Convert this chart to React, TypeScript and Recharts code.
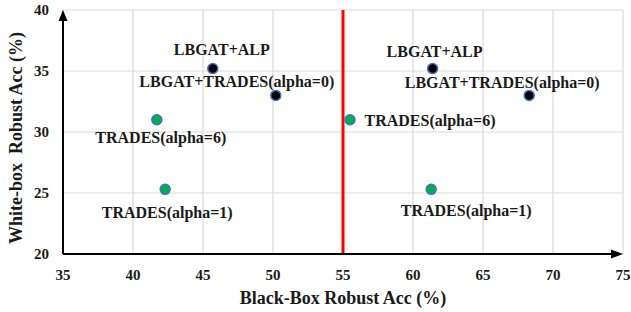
import { ScatterChart, Scatter, XAxis, YAxis, CartesianGrid, ReferenceLine } from "recharts";

const NAMES = ["LBGAT+ALP", "LBGAT+TRADES(alpha=0)", "TRADES(alpha=6)", "TRADES(alpha=1)"];
const WHITE_BOX = [35.2, 33.0, 31.0, 25.3];
const BLACK_BOX_A = [45.7, 50.2, 41.7, 42.3];
const BLACK_BOX_B = [61.4, 68.3, 55.5, 61.3];
const X_TICKS = [35, 40, 45, 50, 55, 60, 65, 70, 75];
const Y_TICKS = [20, 25, 30, 35, 40];
const THRESHOLD = 55;

// label offsets (text centre relative to marker), per group
const OFFSETS_A = [[9, -19], [-39, -14], [4, 18], [2, 23]];
const OFFSETS_B = [[2, -17], [-27, -13], [80, 1], [35, 21]];

const FONT = "'Liberation Serif', 'Times New Roman', serif";
const DARK = "#000000";
const GREEN = "#00B050";
const EDGE = "#4472C4";
const INK = "#1a1a1a";

const groupA = NAMES.map((name, i) => ({ name, x: BLACK_BOX_A[i], y: WHITE_BOX[i], i, g: 0 }));
const groupB = NAMES.map((name, i) => ({ name, x: BLACK_BOX_B[i], y: WHITE_BOX[i], i, g: 1 }));
const points = [...groupA, ...groupB];

function Marker(props: any) {
  const { cx, cy, payload } = props;
  const [dx, dy] = (payload.g === 0 ? OFFSETS_A : OFFSETS_B)[payload.i];
  const fill = payload.name.startsWith("LBGAT") ? DARK : GREEN;
  return (
    <g>
      <circle cx={cx} cy={cy} r={5} fill={fill} stroke={EDGE} strokeWidth={1.5} />
      <text
        x={cx + dx}
        y={cy + dy}
        textAnchor="middle"
        dominantBaseline="central"
        fontFamily={FONT}
        fontWeight="bold"
        fontSize={16}
        fill={INK}
      >
        {payload.name}
      </text>
    </g>
  );
}

function ArrowAxis(props: any) {
  const { x1, y1, x2, y2 } = props;
  const vertical = x1 === x2;
  const head = vertical
    ? `${x2},${y2} ${x2 - 4.5},${y2 + 11} ${x2 + 4.5},${y2 + 11}`
    : `${x2},${y2} ${x2 - 12},${y2 - 4.5} ${x2 - 12},${y2 + 4.5}`;
  return (
    <g>
      <line x1={x1} y1={y1} x2={vertical ? x2 : x2 - 8} y2={vertical ? y2 + 8 : y2} stroke="#000" strokeWidth={2} />
      <polygon points={head} fill="#000" />
    </g>
  );
}

function XTick(props: any) {
  const { x, y, payload } = props;
  return (
    <text x={x} y={y + 11} textAnchor="middle" fontFamily={FONT} fontWeight="bold" fontSize={15} fill={INK}>
      {payload.value}
    </text>
  );
}

function YTick(props: any) {
  const { x, y, payload } = props;
  return (
    <text x={x} y={y} textAnchor="end" dominantBaseline="central" fontFamily={FONT} fontWeight="bold" fontSize={15} fill={INK}>
      {payload.value}
    </text>
  );
}

function YTitle(props: any) {
  const { viewBox } = props;
  const cx = viewBox.x + 16;
  const cy = viewBox.y + viewBox.height / 2 + 6;
  return (
    <text
      x={cx}
      y={cy}
      transform={`rotate(-90, ${cx}, ${cy})`}
      textAnchor="middle"
      dominantBaseline="central"
      fontFamily={FONT}
      fontWeight="bold"
      fontSize={18}
      fill={INK}
      style={{ whiteSpace: "pre" }}
    >
      {"White-box  Robust Acc (%)"}
    </text>
  );
}

function XTitle(props: any) {
  const { viewBox } = props;
  const cx = viewBox.x + viewBox.width / 2;
  const cy = viewBox.y + 44;
  return (
    <text
      x={cx}
      y={cy}
      textAnchor="middle"
      dominantBaseline="central"
      fontFamily={FONT}
      fontWeight="bold"
      fontSize={18}
      fill={INK}
    >
      Black-Box Robust Acc (%)
    </text>
  );
}

export default function App() {
  return (
    <div style={{ position: "absolute", left: 0, top: 0, background: "#fff" }}>
      <ScatterChart width={631} height={312} margin={{ top: 10, right: 8, left: 0, bottom: 0 }}>
        <CartesianGrid stroke="#d9d9d9" strokeWidth={1.2} />
        <XAxis
          type="number"
          dataKey="x"
          domain={[35, 75]}
          ticks={X_TICKS}
          interval={0}
          height={58}
          axisLine={false}
          tickLine={false}
          tickMargin={9}
          tick={<XTick />}
          label={<XTitle />}
        />
        <YAxis
          type="number"
          dataKey="y"
          domain={[20, 40]}
          ticks={Y_TICKS}
          interval={0}
          width={63}
          axisLine={false}
          tickLine={false}
          tickMargin={8}
          tick={<YTick />}
          label={<YTitle />}
        />
        <ReferenceLine x={THRESHOLD} stroke="#ff0000" strokeWidth={3} />
        <ReferenceLine segment={[{ x: 35, y: 20 }, { x: 35, y: 40 }]} shape={<ArrowAxis />} />
        <ReferenceLine segment={[{ x: 35, y: 20 }, { x: 75, y: 20 }]} shape={<ArrowAxis />} />
        <Scatter data={points} shape={<Marker />} isAnimationActive={false} />
      </ScatterChart>
    </div>
  );
}
